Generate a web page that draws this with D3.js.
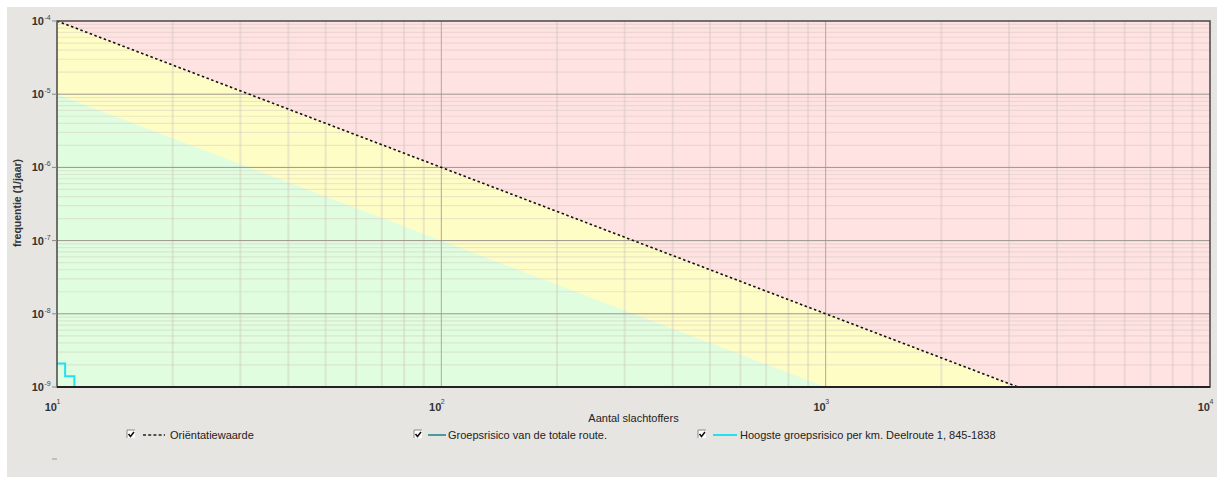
<!DOCTYPE html>
<html><head><meta charset="utf-8">
<script src="https://cdn.jsdelivr.net/npm/d3@7"></script>
<style>
html,body{margin:0;padding:0;background:#fff;}
svg{display:block;}
text{font-family:"Liberation Sans",Arial,sans-serif;}
</style></head>
<body>
<svg id="chart" width="1217" height="479"></svg>
<script>
// ---- data ----
const xDomain = [10, 10000];
const yDomain = [1e-9, 1e-4];
const xTickExp = [1, 2, 3, 4];
const yTickExp = [-4, -5, -6, -7, -8, -9];
const orientatieN = [10, 3162];
const orientatieF = [1e-4, 1e-9];
const groenN = [10, 1000];
const groenF = [1e-5, 1e-9];
const hoogsteN = [10, 10.5, 10.5, 11.1, 11.1];
const hoogsteF = [2.1e-9, 2.1e-9, 1.4e-9, 1.4e-9, 0.9e-9];
const totaleN = [];
const totaleF = [];
const legendLabels = ["Oriëntatiewaarde", "Groepsrisico van de totale route.", "Hoogste groepsrisico per km. Deelroute 1, 845-1838"];
const xLabel = "Aantal slachtoffers";
const yLabel = "frequentie (1/jaar)";

// ---- layout ----
const svg = d3.select("#chart");
const L = 57, R = 1210, T = 21, B = 387;
const x = d3.scaleLog().domain(xDomain).range([L, R]);
const y = d3.scaleLog().domain(yDomain).range([B, T]);

svg.append("rect").attr("x", 7).attr("y", 7).attr("width", 1210).attr("height", 470).attr("fill", "#e7e5e1");

svg.append("clipPath").attr("id", "clip").append("rect")
  .attr("x", L).attr("y", T).attr("width", R - L).attr("height", B - T);
const plot = svg.append("g").attr("clip-path", "url(#clip)");

// zones
plot.append("rect").attr("x", L).attr("y", T).attr("width", R - L).attr("height", B - T).attr("fill", "#ffe2e2");
const poly = d3.line().x(d => x(d[0])).y(d => y(d[1]));
const yellowPts = [[orientatieN[0], orientatieF[0]], [orientatieN[1], orientatieF[1]], [xDomain[0], yDomain[0]]];
plot.append("path").attr("d", poly(yellowPts) + "Z").attr("fill", "#fffdc6");
const greenPts = [[groenN[0], groenF[0]], [groenN[1], groenF[1]], [xDomain[0], yDomain[0]]];
plot.append("path").attr("d", poly(greenPts) + "Z").attr("fill", "#e0fde0");

// grid
const minorX = [], minorY = [];
for (let e = 1; e < 4; e++) for (let m = 2; m <= 9; m++) minorX.push(m * Math.pow(10, e));
for (let e = -9; e < -4; e++) for (let m = 2; m <= 9; m++) minorY.push(m * Math.pow(10, e));
plot.selectAll(".mx").data(minorX).enter().append("line")
  .attr("x1", d => x(d)).attr("x2", d => x(d)).attr("y1", T).attr("y2", B)
  .attr("stroke", "#cfc6bc").attr("stroke-opacity", 0.4).attr("stroke-width", 2);
plot.selectAll(".my").data(minorY).enter().append("line")
  .attr("y1", d => y(d)).attr("y2", d => y(d)).attr("x1", L).attr("x2", R)
  .attr("stroke", "#cfc6bc").attr("stroke-opacity", 0.4).attr("stroke-width", 1.2);
plot.selectAll(".Mx").data(xTickExp.slice(1, 3)).enter().append("line")
  .attr("x1", d => x(Math.pow(10, d))).attr("x2", d => x(Math.pow(10, d))).attr("y1", T).attr("y2", B)
  .attr("stroke", "#b0a8a0").attr("stroke-width", 1);
plot.selectAll(".My").data(yTickExp.slice(1, 5)).enter().append("line")
  .attr("y1", d => y(Math.pow(10, d))).attr("y2", d => y(Math.pow(10, d))).attr("x1", L).attr("x2", R)
  .attr("stroke", "#9c948c").attr("stroke-width", 1);

// lines
const line = d3.line().x(d => x(d[0])).y(d => y(d[1]));
plot.append("path").datum(orientatieN.map((n, i) => [n, orientatieF[i]]))
  .attr("d", line).attr("fill", "none").attr("stroke", "#111").attr("stroke-width", 1.6).attr("stroke-dasharray", "2.5,2.5");
if (totaleN.length) plot.append("path").datum(totaleN.map((n, i) => [n, totaleF[i]]))
  .attr("d", line).attr("fill", "none").attr("stroke", "#1f8a8c").attr("stroke-width", 2);
plot.append("path").datum(hoogsteN.map((n, i) => [n, hoogsteF[i]]))
  .attr("d", line).attr("fill", "none").attr("stroke", "#22e0f0").attr("stroke-width", 2);

// frame
svg.append("rect").attr("x", L).attr("y", T).attr("width", R - L).attr("height", B - T)
  .attr("fill", "none").attr("stroke", "#4a4646").attr("stroke-width", 1.5);
svg.append("line").attr("x1", L).attr("x2", R).attr("y1", B).attr("y2", B).attr("stroke", "#222").attr("stroke-width", 2);

// y tick labels
const yt = svg.append("g");
yTickExp.forEach(e => {
  const yy = y(Math.pow(10, e));
  yt.append("line").attr("x1", L - 5).attr("x2", L).attr("y1", yy).attr("y2", yy).attr("stroke", "#888");
  yt.append("text").attr("x", 44).attr("y", yy + 4).attr("text-anchor", "end")
    .attr("font-size", 11).attr("font-weight", "bold").attr("fill", "#333").text("10");
  yt.append("text").attr("x", 44.5).attr("y", yy - 1).attr("font-size", 7).attr("fill", "#444").text("-" + Math.abs(e));
});
// x tick labels
xTickExp.forEach(e => {
  const xx = x(Math.pow(10, e));
  svg.append("text").attr("x", xx).attr("y", 411).attr("text-anchor", "end")
    .attr("font-size", 11).attr("font-weight", "bold").attr("fill", "#333").text("10");
  svg.append("text").attr("x", xx - 0.5).attr("y", 404).attr("font-size", 7).attr("fill", "#444").text(e);
});

// axis titles
svg.append("text").attr("x", (L + R) / 2).attr("y", 422).attr("text-anchor", "middle")
  .attr("font-size", 11).attr("fill", "#222").text(xLabel);
svg.append("text").attr("transform", "translate(21,203) rotate(-90)").attr("text-anchor", "middle")
  .attr("font-size", 10.5).attr("font-weight", "bold").attr("fill", "#333").text(yLabel);

// legend
const legItems = [
  {bx: 127, lx1: 143, lx2: 165, tx: 170, stroke: "#222", dash: "3,2.2", w: 1.3},
  {bx: 414, lx1: 428, lx2: 446, tx: 448, stroke: "#1f8a8c", dash: null, w: 1.6},
  {bx: 698, lx1: 713, lx2: 737, tx: 740, stroke: "#22e0f0", dash: null, w: 2}
];
const ly = 435;
legItems.forEach((it, i) => {
  const g = svg.append("g");
  g.append("rect").attr("x", it.bx).attr("y", ly - 5).attr("width", 8).attr("height", 8).attr("fill", "#fff");
  g.append("path").attr("d", `M${it.bx},${ly + 3}V${ly - 5}H${it.bx + 8}`).attr("fill", "none").attr("stroke", "#888").attr("stroke-width", 1);
  g.append("path").attr("d", `M${it.bx + 1.5},${ly - 1}L${it.bx + 3.5},${ly + 1.5}L${it.bx + 7},${ly - 3}`)
    .attr("fill", "none").attr("stroke", "#111").attr("stroke-width", 1.6);
  const l = g.append("line").attr("x1", it.lx1).attr("x2", it.lx2).attr("y1", ly).attr("y2", ly)
    .attr("stroke", it.stroke).attr("stroke-width", it.w);
  if (it.dash) l.attr("stroke-dasharray", it.dash);
  g.append("text").attr("x", it.tx).attr("y", ly + 4).attr("font-size", 11).attr("fill", "#222").text(legendLabels[i]);
});

svg.append("line").attr("x1", 52).attr("x2", 57).attr("y1", 459).attr("y2", 459).attr("stroke", "#999");
</script>
</body></html>
